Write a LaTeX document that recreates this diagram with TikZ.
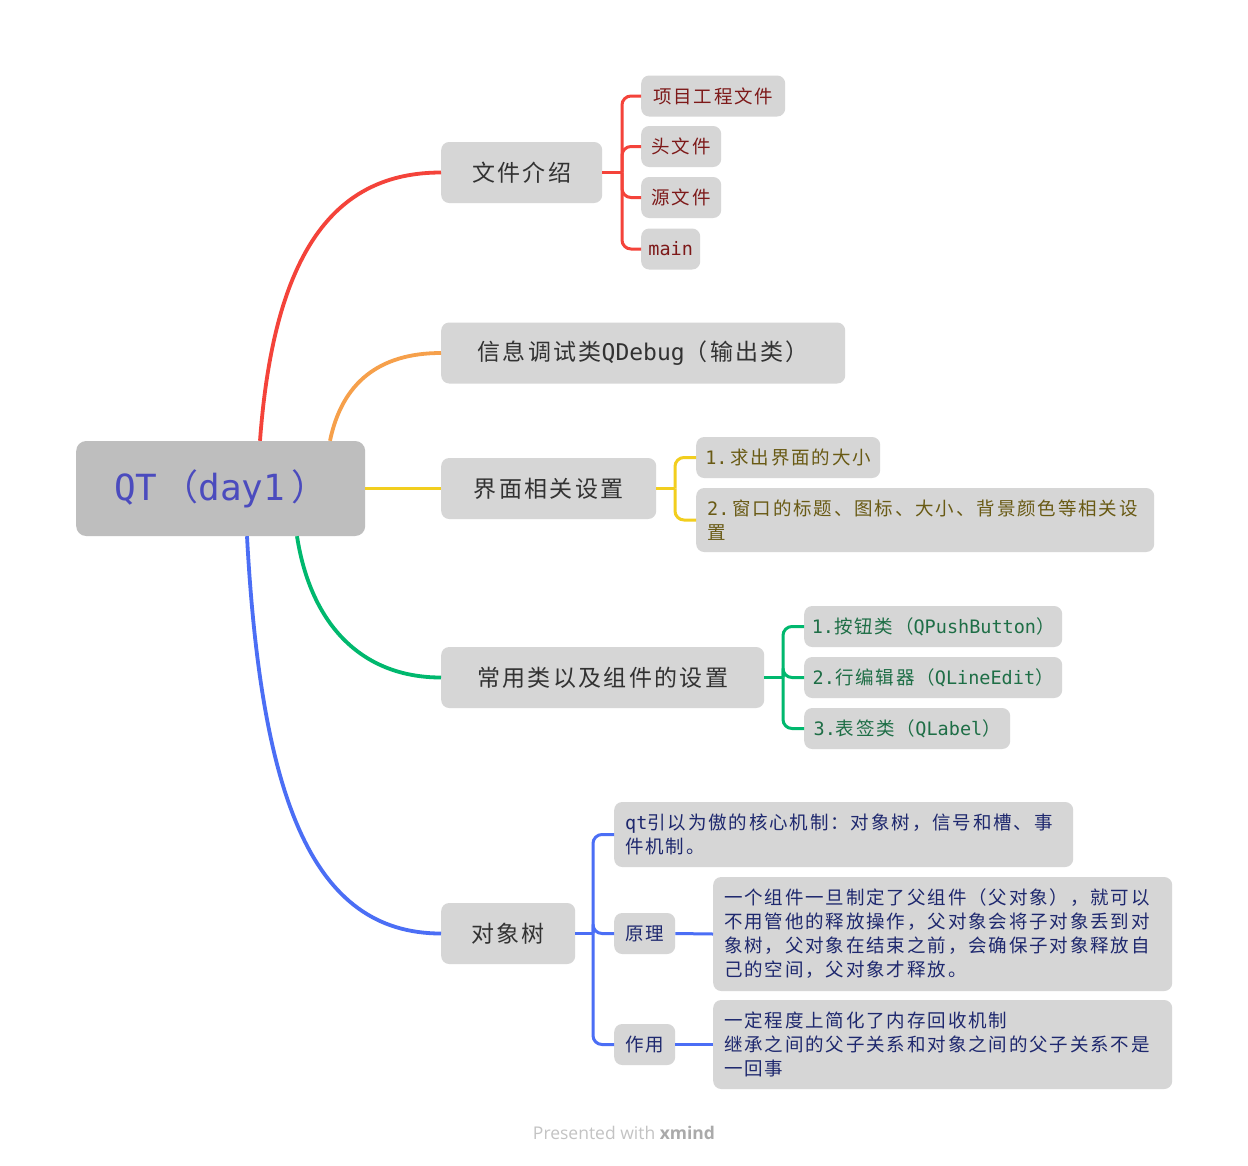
\documentclass[tikz,border=0pt]{standalone}
\usepackage{fontspec}
\setmainfont{Noto Sans CJK SC}[LetterSpace=10]
\newfontfamily\mono{DejaVu Sans Mono}
\newfontfamily\foot{Open Sans}
\definecolor{rootgray}{RGB}{190,190,190}
\definecolor{boxgray}{RGB}{214,214,214}
\definecolor{roottext}{RGB}{75,75,190}
\definecolor{topictext}{RGB}{50,50,50}
\definecolor{cred}{RGB}{244,67,58}
\definecolor{corange}{RGB}{246,160,75}
\definecolor{cyellow}{RGB}{242,206,30}
\definecolor{cgreen}{RGB}{0,184,110}
\definecolor{cblue}{RGB}{75,110,245}
\definecolor{tred}{RGB}{125,25,25}
\definecolor{tyellow}{RGB}{105,90,20}
\definecolor{tgreen}{RGB}{30,110,70}
\definecolor{tblue}{RGB}{30,40,110}
\definecolor{footgray}{RGB}{195,195,195}
\definecolor{footdark}{RGB}{170,170,170}
\tikzset{
  rootbox/.style={anchor=west, fill=rootgray, rounded corners=10, minimum height=95, inner sep=2, text=roottext, font=\fontsize{36}{40}\selectfont},
  topic/.style={anchor=west, fill=boxgray, rounded corners=8, minimum height=61, inner sep=2, text=topictext, font=\fontsize{23}{26}\selectfont},
  leaf/.style={anchor=west, fill=boxgray, rounded corners=8, minimum height=41, inner sep=2, font=\fontsize{18.5}{24}\selectfont},
  para/.style={leaf, align=left, inner xsep=11},
  mainline/.style={line width=3.8},
  subline/.style={line width=3, rounded corners=9},
}
\begin{document}
\begin{tikzpicture}[x=1pt, y=-1pt]
\useasboundingbox[fill=white] (0,0) rectangle (1248,1165);

% root and topics
\node[rootbox, minimum width=289] (root) at (76,488.5) {{\mono QT}\hspace{5pt}（{\mono day1}\hspace{6pt}）};
\node[topic, minimum width=161] (t1) at (441,172.5) {文件介绍};
\node[topic, minimum width=404] (t2) at (441,353) {信息调试类{\mono QDebug}（输出类）};
\node[topic, minimum width=215] (t3) at (441,488.5) {界面相关设置};
\node[topic, minimum width=323] (t4) at (441,677.5) {常用类以及组件的设置};
\node[topic, minimum width=134] (t5) at (441,933.5) {对象树};

% root connectors
\draw[mainline, cred] ([xshift=184]root.north west) .. controls +(14,-190) and +(-106,0) .. (t1.west);
\draw[mainline, corange] ([xshift=254]root.north west) .. controls +(12,-58) and +(-62,0) .. (t2.west);
\draw[mainline, cyellow] (root.east) -- (t3.west);
\draw[mainline, cgreen] ([xshift=221]root.south west) .. controls +(14,90) and +(-78,0) .. (t4.west);
\draw[mainline, cblue] ([xshift=171]root.south west) .. controls +(14,260) and +(-130,0) .. (t5.west);

% branch 1
\node[leaf, text=tred, minimum width=144] (l11) at (641,96) {项目工程文件};
\node[leaf, text=tred, minimum width=80] (l12) at (641,146.5) {头文件};
\node[leaf, text=tred, minimum width=80] (l13) at (641,197.5) {源文件};
\node[leaf, text=tred, minimum width=59] (l14) at (641,249) {\mono main};
\coordinate (s1) at (622,172.5);
\draw[subline, cred] (t1.east) -- (s1);
\foreach \l in {l11,l12,l13,l14}
  \draw[subline, cred] (s1) |- (\l.west);

% branch 3
\node[leaf, text=tyellow, minimum width=184] (l31) at (696,457.5) {{\mono 1.}\hspace{3pt}求出界面的大小};
\node[para, text=tyellow, minimum width=458, minimum height=64, text width=436] (l32) at (696,520)
  {{\mono 2.}\hspace{3pt}窗口的标题、图标、大小、背景颜色等相关设\\置};
\coordinate (s3) at (675,488.5);
\draw[subline, cyellow] (t3.east) -- (s3);
\foreach \l in {l31,l32}
  \draw[subline, cyellow] (s3) |- (\l.west);

% branch 4
\node[leaf, text=tgreen, minimum width=258] (l41) at (804,626.5) {{\mono 1.}按钮类（{\mono QPushButton}）};
\node[leaf, text=tgreen, minimum width=258] (l42) at (804,677.5) {{\mono 2.}行编辑器（{\mono QLineEdit}）};
\node[leaf, text=tgreen, minimum width=206] (l43) at (804,728.5) {{\mono 3.}表签类（{\mono QLabel}）};
\coordinate (s4) at (783,677.5);
\draw[subline, cgreen] (t4.east) -- (s4);
\foreach \l in {l41,l42,l43}
  \draw[subline, cgreen] (s4) |- (\l.west);

% branch 5
\node[para, text=tblue, minimum width=459, minimum height=65, text width=437] (l51) at (614,834.5)
  {{\mono qt}引以为傲的核心机制：对象树，信号和槽、事\\件机制。};
\node[leaf, text=tblue, minimum width=61] (l52) at (614,933.5) {原理};
\node[leaf, text=tblue, minimum width=61] (l53) at (614,1044.5) {作用};
\node[para, text=tblue, minimum width=459, minimum height=114, text width=437] (l52b) at (713,934)
  {一个组件一旦制定了父组件（父对象），就可以\\不用管他的释放操作，父对象会将子对象丢到对\\象树，父对象在结束之前，会确保子对象释放自\\己的空间，父对象才释放。};
\node[para, text=tblue, minimum width=459, minimum height=89, text width=437] (l53b) at (713,1044.5)
  {一定程度上简化了内存回收机制\\继承之间的父子关系和对象之间的父子关系不是\\一回事};
\coordinate (s5) at (593,933.5);
\draw[subline, cblue] (t5.east) -- (s5);
\foreach \l in {l51,l52,l53}
  \draw[subline, cblue] (s5) |- (\l.west);
\draw[subline, cblue] (l52.east) -- (l52b.west);
\draw[subline, cblue] (l53.east) -- (l53b.west);

% footer
\node[font=\foot\fontsize{17.5}{20}\selectfont, text=footgray] (ft) at (624,1133) {Presented with {\bfseries\color{footdark}xmind}};
\end{tikzpicture}
\end{document}
